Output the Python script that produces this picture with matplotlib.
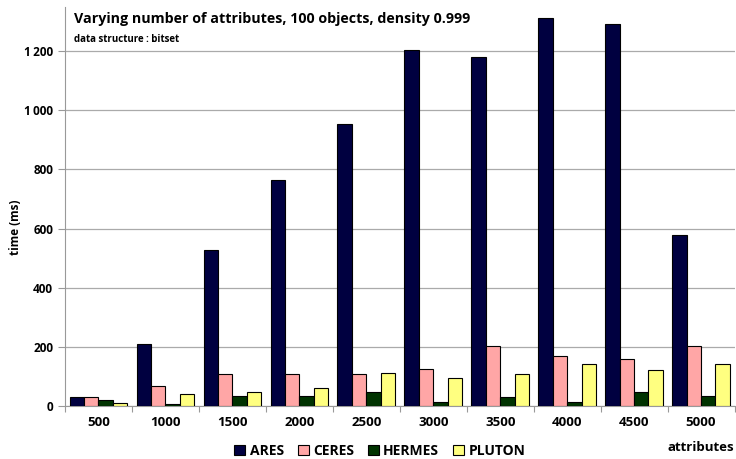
import matplotlib.pyplot as plt
import numpy as np

categories = ["500", "1000", "1500", "2000", "2500", "3000", "3500", "4000", "4500", "5000"]
ares = [30, 210, 529, 766, 953, 1205, 1180, 1312, 1292, 580]
ceres = [30, 69, 108, 108, 108, 125, 203, 170, 160, 203]
hermes = [20, 8, 33, 33, 47, 15, 30, 13, 47, 33]
pluton = [10, 40, 48, 62, 110, 93, 107, 142, 123, 142]
series = [("ARES", ares, "#000040"), ("CERES", ceres, "#ffa6a6"),
          ("HERMES", hermes, "#003300"), ("PLUTON", pluton, "#ffff80")]

plt.rcParams["font.family"] = ["Open Sans", "DejaVu Sans"]
plt.rcParams["font.weight"] = "bold"

fig = plt.figure(figsize=(7.36, 4.59), dpi=100)
ax = fig.add_axes([0.0883, 0.1155, 0.9097, 0.8695])

x = np.arange(len(categories))
w = 0.215
for i, (name, vals, col) in enumerate(series):
    ax.bar(x + (i - 1.5) * w, vals, width=w, color=col, edgecolor="black",
           linewidth=0.8, label=name, zorder=3)

ax.set_xlim(-0.5, len(categories) - 0.5)
ax.set_ylim(0, 1350)
ax.set_yticks(range(0, 1201, 200))
ax.set_yticklabels([f"{v:,}".replace(",", "\u2009") for v in range(0, 1201, 200)], fontsize=8.5)
ax.set_xticks(np.arange(-0.5, len(categories)), minor=False)
ax.set_xticklabels([])
ax.set_xticks(x, minor=True)
ax.set_xticklabels(categories, minor=True, fontsize=9.5)
ax.tick_params(axis="x", which="minor", length=0, pad=7)
ax.tick_params(axis="x", which="major", length=4, color="#999999")
ax.tick_params(axis="y", length=5, color="#999999")
ax.grid(axis="y", color="#aaaaaa", linewidth=0.9, zorder=0)
for s in ["top", "right"]:
    ax.spines[s].set_visible(False)
for s in ["left", "bottom"]:
    ax.spines[s].set_color("#999999")

fig.text(0.021, 0.505, "time (ms)", rotation=90, ha="center", va="center", fontsize=8.5)
fig.text(0.998, 0.026, "attributes", ha="right", va="center", fontsize=9.5)
fig.text(0.101, 0.958, "Varying number of attributes, 100 objects, density 0.999",
         fontsize=10.3, ha="left", va="center")
fig.text(0.101, 0.913, "data structure : bitset", fontsize=7, ha="left", va="center")

fig.legend(loc="center", bbox_to_anchor=(0.516, 0.018), ncol=4, frameon=False,
           fontsize=10, handlelength=0.8, handleheight=0.8, handletextpad=0.3,
           columnspacing=1.0, borderaxespad=0, borderpad=0)

fig.savefig("out.png")
